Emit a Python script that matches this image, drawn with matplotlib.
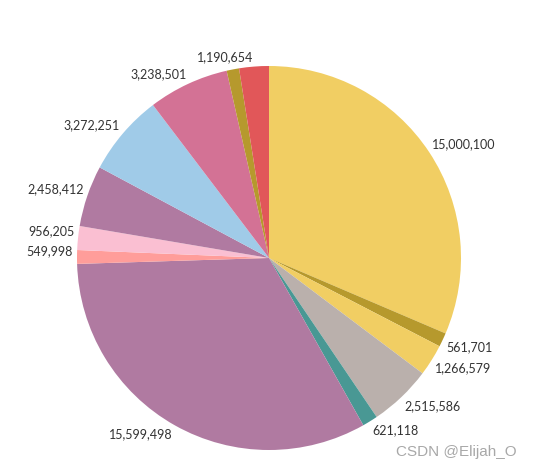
import numpy as np
import matplotlib
matplotlib.use("Agg")
import matplotlib.pyplot as plt

# slices clockwise from 12 o'clock
values = [15000100, 561701, 1266579, 2515586, 621118, 15599498,
          549998, 956205, 2458412, 3272251, 3238501, 500000, 1190654]
labels = ["15,000,100", "561,701", "1,266,579", "2,515,586", "621,118",
          "15,599,498", "549,998", "956,205", "2,458,412", "3,272,251",
          "3,238,501", "", "1,190,654"]
colors = ["#F1CE63", "#B6992D", "#F1CE63", "#BAB0AC", "#499894", "#B07AA1",
          "#FF9D9A", "#FABFD2", "#B07AA1", "#A0CBE8", "#D37295", "#B6992D",
          "#E15759"]

W, H = 536, 472
fig = plt.figure(figsize=(W / 100, H / 100), dpi=100)
cx, cy, r = 269, 258, 192
ax = fig.add_axes([(cx - r) / W, (H - cy - r) / H, 2 * r / W, 2 * r / H])

wedges, _ = ax.pie(values, colors=colors, startangle=90, counterclock=False,
                   radius=1, wedgeprops=dict(linewidth=0))
ax.set_xlim(-1, 1)
ax.set_ylim(-1, 1)
ax.set_aspect("equal")
ax.axis("off")

# labels sit just outside the slice middle, corner anchored
R = 1.02
for w, lab in zip(wedges, labels):
    if not lab:
        continue
    mid = np.deg2rad((w.theta1 + w.theta2) / 2)
    x, y = R * np.cos(mid), R * np.sin(mid)
    ha = "left" if x >= 0 else "right"
    va = "bottom" if y >= 0 else "top"
    ax.text(x, y, lab, ha=ha, va=va, fontsize=9, family="Lato",
            color="#333333", clip_on=False)

fig.text(517 / W, 1 - 452 / H, "CSDN @Elijah_O", ha="right", va="center",
         fontsize=11, family="Liberation Sans", color="#a8a8a8")

fig.savefig("out.png", dpi=100, facecolor="white")
